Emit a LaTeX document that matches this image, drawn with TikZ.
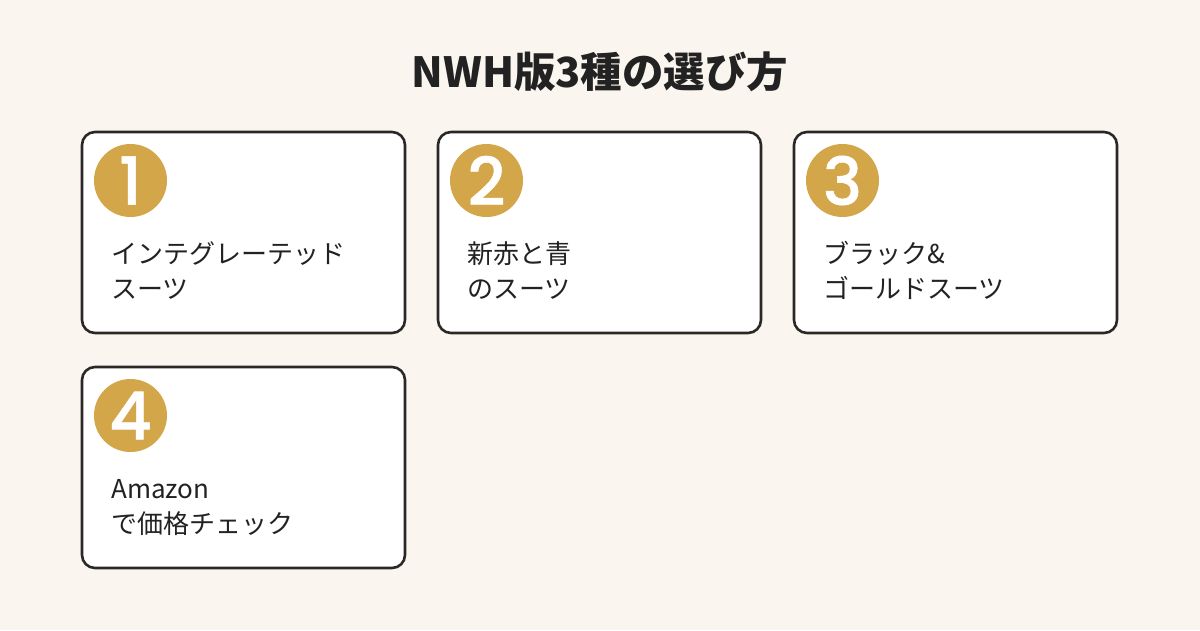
\documentclass[tikz,border=0pt]{standalone}
\usepackage{fontspec}
\newfontfamily\jp{Noto Sans CJK JP}
\newfontfamily\numfont{Poppins Medium}[FakeBold=0.8]
\definecolor{bgc}{HTML}{FAF6EF}
\definecolor{gold}{HTML}{D4A64A}
\definecolor{ink}{HTML}{2B2727}
\definecolor{txt}{HTML}{222222}
\tikzset{
  card/.style={draw=ink, line width=2.6pt, fill=white, rounded corners=13pt,
    minimum width=323pt, minimum height=201pt, inner sep=0pt, outer sep=0pt},
  badge/.style={circle, fill=gold, minimum size=73pt, inner sep=0pt,
    text=white, font=\numfont\fontsize{66}{66}\selectfont},
  label/.style={anchor=base west, inner sep=0pt, text=txt,
    font=\jp\fontsize{26}{30}\selectfont},
  heading/.style={inner sep=0pt, text=txt, font=\jp\bfseries\fontsize{41.5}{44}\selectfont}
}
\begin{document}
\begin{tikzpicture}[x=1pt,y=-1pt]
\path[fill=bgc] (0,0) rectangle (1200,630);
\useasboundingbox (0,0) rectangle (1200,630);
\node[heading] (title) at (600,72) {NWH版3種の選び方};
\node[card] (c1) at (243.5,232.5) {};
\node[card] (c2) at (599.5,232.5) {};
\node[card] (c3) at (955.5,232.5) {};
\node[card] (c4) at (243.5,467.5) {};
\node[badge] (n1) at (130.5,180.5) {1};
\node[badge] (n2) at (486.5,180.5) {2};
\node[badge] (n3) at (842.5,180.5) {3};
\node[badge] (n4) at (130.5,415.5) {4};
\node[label] (t1a) at (111,263) {インテグレーテッド};
\node[label] (t1b) at (111,298) {スーツ};
\node[label] (t2a) at (467,263) {新赤と青};
\node[label] (t2b) at (467,298) {のスーツ};
\node[label] (t3a) at (823,263) {ブラック\&};
\node[label] (t3b) at (823,298) {ゴールドスーツ};
\node[label] (t4a) at (111,498) {Amazon};
\node[label] (t4b) at (111,533) {で価格チェック};
\end{tikzpicture}
\end{document}
